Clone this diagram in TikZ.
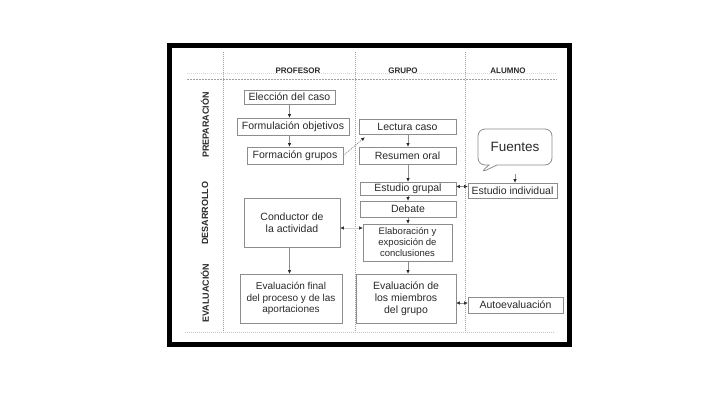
\documentclass[tikz,border=0pt]{standalone}
\usepackage{fontspec}
\setmainfont{Liberation Sans}
\usetikzlibrary{arrows.meta,shapes.callouts,calc}
\definecolor{boxgray}{HTML}{8C8C8C}
\definecolor{gridgray}{HTML}{A0A0A0}
\definecolor{txt}{HTML}{2A2A2A}
\begin{document}
\begin{tikzpicture}[x=1pt,y=-1pt,
  box/.style={draw=boxgray,line width=0.8pt,inner sep=0pt,text=txt,align=center,
    font=\fontsize{10.5}{12}\selectfont},
  hdr/.style={text=txt,font=\fontsize{8}{9}\selectfont\bfseries},
  rowlbl/.style={text=txt,rotate=90,font=\fontsize{9}{10}\selectfont\bfseries},
  grid/.style={gridgray,line width=0.6pt,dash pattern=on 1pt off 1pt},
  arr/.style={boxgray,line width=0.8pt,-{Triangle[length=3.5pt,width=3pt,color=txt]}},
  darr/.style={boxgray,line width=0.6pt,{Triangle[length=3.5pt,width=3pt,color=txt]}-{Triangle[length=3.5pt,width=3pt,color=txt]}},
]
\useasboundingbox (0,0) rectangle (720,405);
\fill[white] (0,0) rectangle (720,405);
% frame
\draw[line width=5pt] (169.5,45) rectangle (569.5,344);
% grid
\draw[grid] (223,52) -- (223,334);
\draw[grid] (355,52) -- (355,334);
\draw[grid] (465,52) -- (465,334);
\draw[gridgray!40,line width=0.6pt,dash pattern=on 1pt off 1pt] (187,73) -- (557,73);
\draw[gridgray,line width=0.6pt,dash pattern=on 2pt off 1pt] (187,79) -- (557,79);
\draw[gridgray!60,line width=0.6pt,dash pattern=on 1pt off 1pt] (185,332) -- (555,332);
% headers
\node[hdr] (hprof) at (298,70.5) {PROFESOR};
\node[hdr] (hgrup) at (403,70.5) {GRUPO};
\node[hdr] (halum) at (508,70.5) {ALUMNO};
\node[rowlbl] (rprep) at (205,125) {PREPARACIÓN};
\node[rowlbl] (rdesa) at (205,213) {DESARROLLO};
\node[rowlbl] (reval) at (205,293) {EVALUACIÓN};
% profesor column
\node[box,minimum width=91pt,minimum height=14pt] (elec) at (289.5,97) {Elección del caso};
\node[box,minimum width=112pt,minimum height=17pt] (form) at (293,126.5) {Formulación objetivos};
\node[box,minimum width=96pt,minimum height=17pt] (grup) at (295,155.5) {Formación grupos};
\node[box,minimum width=96pt,minimum height=49pt] (cond) at (292,222.5) {Conductor de\\la actividad};
\node[box,minimum width=102pt,minimum height=49pt,font=\fontsize{10}{11.5}\selectfont] (evfi) at (291,298.5) {Evaluación final\\del proceso y de las\\aportaciones};
% grupo column
\node[box,minimum width=97pt,minimum height=15pt] (lect) at (407.5,126.5) {Lectura caso};
\node[box,minimum width=97pt,minimum height=17pt] (resu) at (407.5,155.5) {Resumen oral};
\node[box,minimum width=96pt,minimum height=13pt] (estg) at (408,188.5) {Estudio grupal};
\node[box,minimum width=96pt,minimum height=16pt] (deba) at (408,209) {Debate};
\node[box,minimum width=89pt,minimum height=37pt,font=\fontsize{9.5}{11}\selectfont] (elab) at (407.5,242.5) {Elaboración y\\exposición de\\conclusiones};
\node[box,minimum width=100pt,minimum height=49pt] (evgr) at (406,298.5) {Evaluación de\\los miembros\\del grupo};
% alumno column
\node[box,rectangle callout,rounded corners=7pt,minimum width=74pt,minimum height=36pt,
  callout absolute pointer={(480,173)},callout pointer width=8pt,
  font=\fontsize{13.5}{15}\selectfont] (fuen) at (515,147) {Fuentes};
\node[box,minimum width=89pt,minimum height=15pt] (esti) at (512.5,190.5) {Estudio individual};
\node[box,minimum width=95pt,minimum height=16pt] (auto) at (515.5,305) {Autoevaluación};
% connectors
\draw[arr] (elec.south) -- (elec.south |- form.north);
\draw[arr] (form.south -| elec.south) -- (elec.south |- grup.north);
\draw[arr,dash pattern=on 1pt off 1pt] (grup.east) -- ([xshift=6pt,yshift=-3pt]lect.south west);
\draw[arr] (lect.south -| estg.south) -- (estg.south |- resu.north);
\draw[arr] (resu.south -| estg.south) -- (estg.north);
\draw[arr] ([yshift=-9pt]fuen.south) -- (fuen.south |- esti.north);
\draw[darr] ([yshift=2pt]estg.east) -- ([yshift=2pt]estg.east -| esti.west);
\draw[arr] (estg.south) -- (deba.north);
\draw[arr] (deba.south) -- (deba.south |- elab.north);
\draw[darr,boxgray!40] ([yshift=-5.5pt]cond.east) -- ([yshift=-5.5pt]cond.east -| elab.west);
\draw[arr] (elab.south -| deba.south) -- (deba.south |- evgr.north);
\draw[arr] (cond.south -| elec.south) -- (elec.south |- evfi.north);
\draw[darr] ([yshift=-4.5pt]evgr.east) -- ([yshift=-4.5pt]evgr.east -| auto.west);
\end{tikzpicture}
\end{document}
